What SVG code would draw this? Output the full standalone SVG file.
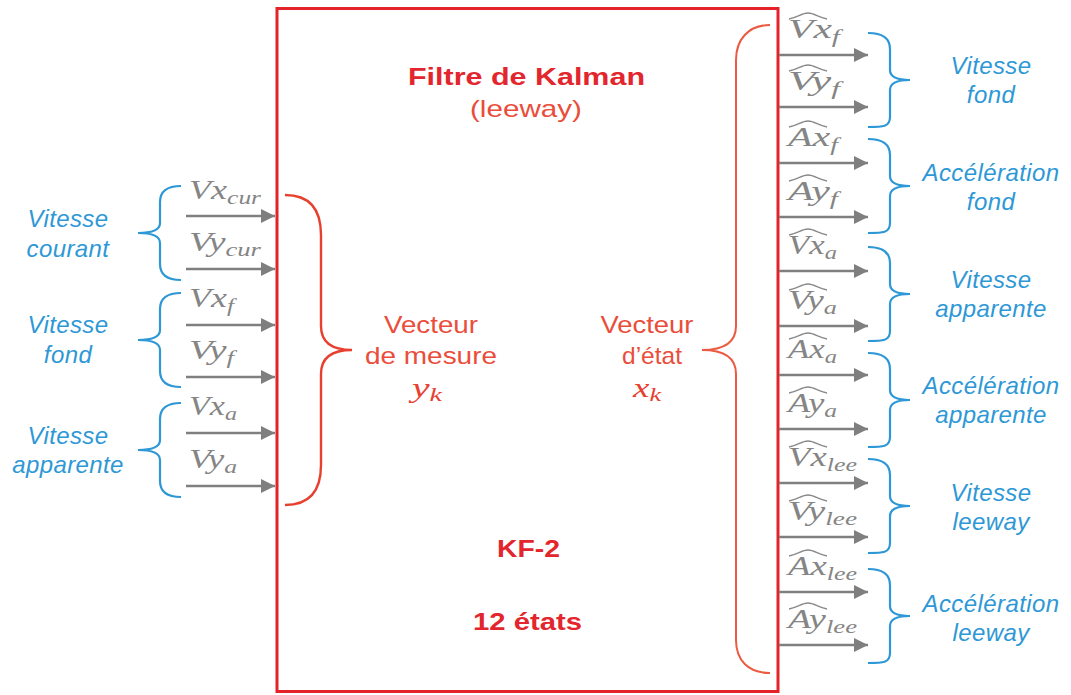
<svg xmlns="http://www.w3.org/2000/svg" width="1071" height="695" viewBox="0 0 1071 695">
<defs>
<marker id="ah" markerUnits="userSpaceOnUse" markerWidth="15" markerHeight="14" refX="14" refY="7" orient="auto"><path d="M0,0 L14,7 L0,14 z" fill="#7f7f7f"/></marker>
<style>
.box{fill:#fff;stroke:#e3222a;stroke-width:3}
.arr{stroke:#7f7f7f;stroke-width:2.5;fill:none;marker-end:url(#ah)}
.bb{stroke:#2e98d6;stroke-width:2.2;fill:none}
.rb{stroke:#e8402f;stroke-width:2.4;fill:none}
.rb2{stroke:#ec5a42;stroke-width:2;fill:none}
.hat{stroke:#8a8a8a;stroke-width:1.4;fill:none}
.t{font-family:"Liberation Sans",Arial,sans-serif;text-anchor:middle}
.tb{font-weight:bold;font-size:24px;fill:#e3262d}
.tn{font-size:24px;fill:#ea4d3a}
.blue{font-family:"Liberation Sans",Arial,sans-serif;font-style:italic;font-size:24px;fill:#2e98d6;text-anchor:middle;letter-spacing:0.4px}
.math{font-family:"Liberation Serif","DejaVu Serif",serif;font-style:italic;font-size:27px;fill:#858585}
.mred{font-family:"Liberation Serif","DejaVu Serif",serif;font-style:italic;font-size:27px;fill:#e8402f;text-anchor:middle}
.ms{font-size:19px}
</style>
</defs>
<rect width="1071" height="695" fill="#fff"/>

<g id="kalman">
<rect class="box" x="277" y="8.5" width="501" height="683"/>
<text class="t tb" x="526.5" y="85" textLength="237" lengthAdjust="spacingAndGlyphs">Filtre de Kalman</text>
<text class="t tn" x="526" y="117" textLength="112" lengthAdjust="spacingAndGlyphs">(leeway)</text>
<text class="t tb" x="528.5" y="557" font-size="25" textLength="63" lengthAdjust="spacingAndGlyphs">KF-2</text>
<text class="t tb" x="527.5" y="630" font-size="25" textLength="109" lengthAdjust="spacingAndGlyphs">12 états</text>
</g>

<g id="mesure">
<path class="rb" d="M285,195 C310,195 321,210 321,235 L321,326 C321,342 332,350 352,350 C332,350 321,358 321,374 L321,465 C321,490 310,505 285,505"/>
<text class="t tn" x="431" y="333" textLength="94" lengthAdjust="spacingAndGlyphs">Vecteur</text>
<text class="t tn" x="431" y="364" textLength="132" lengthAdjust="spacingAndGlyphs">de mesure</text>
<text class="mred" x="427" y="397" textLength="30" lengthAdjust="spacingAndGlyphs">y<tspan class="ms" dy="4">k</tspan></text>
</g>

<g id="etat">
<path class="rb2" d="M770,25 C748,25 736,40 736,60 L736,326 C736,342 725,350 702,350 C725,350 736,358 736,374 L736,640 C736,660 748,673 770,673"/>
<text class="t tn" x="647" y="333" textLength="93" lengthAdjust="spacingAndGlyphs">Vecteur</text>
<text class="t tn" x="652" y="364" textLength="60" lengthAdjust="spacingAndGlyphs">d’état</text>
<text class="mred" x="647" y="397" textLength="28" lengthAdjust="spacingAndGlyphs">x<tspan class="ms" dy="4">k</tspan></text>
</g>

<g id="inputs">
<g id="in-courant">
<path class="bb" d="M181,186 C166,186 160,192 160,202 L160,223 C160,230 152,233 138,233 C152,233 160,236 160,243 L160,264 C160,274 166,280 181,280"/>
<text class="blue" x="68" y="227">Vitesse</text>
<text class="blue" x="68" y="257">courant</text>
</g>
<g id="in-fond">
<path class="bb" d="M181,293 C166,293 160,299 160,309 L160,330 C160,337 152,340 138,340 C152,340 160,343 160,350 L160,371 C160,381 166,387 181,387"/>
<text class="blue" x="68" y="333">Vitesse</text>
<text class="blue" x="68" y="363">fond</text>
</g>
<g id="in-apparente">
<path class="bb" d="M181,403 C166,403 160,409 160,419 L160,440 C160,447 152,450 138,450 C152,450 160,453 160,460 L160,481 C160,491 166,497 181,497"/>
<text class="blue" x="68" y="444">Vitesse</text>
<text class="blue" x="68" y="473">apparente</text>
</g>
<text class="math" x="189" y="199" textLength="72" lengthAdjust="spacingAndGlyphs">Vx<tspan class="ms" dy="5">cur</tspan></text>
<text class="math" x="189" y="251" textLength="72" lengthAdjust="spacingAndGlyphs">Vy<tspan class="ms" dy="5">cur</tspan></text>
<text class="math" x="189" y="307" textLength="45" lengthAdjust="spacingAndGlyphs">Vx<tspan class="ms" dy="5">f</tspan></text>
<text class="math" x="189" y="359" textLength="45" lengthAdjust="spacingAndGlyphs">Vy<tspan class="ms" dy="5">f</tspan></text>
<text class="math" x="189" y="415" textLength="48" lengthAdjust="spacingAndGlyphs">Vx<tspan class="ms" dy="5">a</tspan></text>
<text class="math" x="189" y="468" textLength="48" lengthAdjust="spacingAndGlyphs">Vy<tspan class="ms" dy="5">a</tspan></text>
</g>

<g id="outputs">
<g id="out-vf">
<path class="bb" d="M868,33 C883,33 890,39 890,49 L890,70 C890,77 897,80 910,80 C897,80 890,83 890,90 L890,117 C890,127 883,127 868,127"/>
<text class="blue" x="991" y="74">Vitesse</text>
<text class="blue" x="991" y="103">fond</text>
</g>
<g id="out-af">
<path class="bb" d="M868,139 C883,139 890,145 890,155 L890,176 C890,183 897,186 910,186 C897,186 890,189 890,196 L890,223 C890,233 883,233 868,233"/>
<text class="blue" x="991" y="181">Accélération</text>
<text class="blue" x="991" y="210">fond</text>
</g>
<g id="out-va">
<path class="bb" d="M868,247 C883,247 890,253 890,263 L890,284 C890,291 897,294 910,294 C897,294 890,297 890,304 L890,331 C890,341 883,341 868,341"/>
<text class="blue" x="991" y="288">Vitesse</text>
<text class="blue" x="991" y="317">apparente</text>
</g>
<g id="out-aa">
<path class="bb" d="M868,353 C883,353 890,359 890,369 L890,390 C890,397 897,400 910,400 C897,400 890,403 890,410 L890,437 C890,447 883,447 868,447"/>
<text class="blue" x="991" y="394">Accélération</text>
<text class="blue" x="991" y="423">apparente</text>
</g>
<g id="out-vl">
<path class="bb" d="M868,459 C883,459 890,465 890,475 L890,496 C890,503 897,506 910,506 C897,506 890,509 890,516 L890,543 C890,553 883,553 868,553"/>
<text class="blue" x="991" y="501">Vitesse</text>
<text class="blue" x="991" y="530">leeway</text>
</g>
<g id="out-al">
<path class="bb" d="M868,569 C883,569 890,575 890,585 L890,606 C890,613 897,616 910,616 C897,616 890,619 890,626 L890,653 C890,663 883,663 868,663"/>
<text class="blue" x="991" y="612">Accélération</text>
<text class="blue" x="991" y="641">leeway</text>
</g>
<text class="math" x="788" y="38" textLength="52" lengthAdjust="spacingAndGlyphs">Vx<tspan class="ms" dy="5">f</tspan></text>
<text class="math" x="788" y="90" textLength="52" lengthAdjust="spacingAndGlyphs">Vy<tspan class="ms" dy="5">f</tspan></text>
<text class="math" x="788" y="146" textLength="50" lengthAdjust="spacingAndGlyphs">Ax<tspan class="ms" dy="5">f</tspan></text>
<text class="math" x="788" y="200" textLength="50" lengthAdjust="spacingAndGlyphs">Ay<tspan class="ms" dy="5">f</tspan></text>
<text class="math" x="788" y="254" textLength="49" lengthAdjust="spacingAndGlyphs">Vx<tspan class="ms" dy="5">a</tspan></text>
<text class="math" x="788" y="309" textLength="49" lengthAdjust="spacingAndGlyphs">Vy<tspan class="ms" dy="5">a</tspan></text>
<text class="math" x="788" y="358" textLength="49" lengthAdjust="spacingAndGlyphs">Ax<tspan class="ms" dy="5">a</tspan></text>
<text class="math" x="788" y="412" textLength="49" lengthAdjust="spacingAndGlyphs">Ay<tspan class="ms" dy="5">a</tspan></text>
<text class="math" x="788" y="466" textLength="69" lengthAdjust="spacingAndGlyphs">Vx<tspan class="ms" dy="5">lee</tspan></text>
<text class="math" x="788" y="520" textLength="69" lengthAdjust="spacingAndGlyphs">Vy<tspan class="ms" dy="5">lee</tspan></text>
<text class="math" x="788" y="575" textLength="69" lengthAdjust="spacingAndGlyphs">Ax<tspan class="ms" dy="5">lee</tspan></text>
<text class="math" x="788" y="628" textLength="69" lengthAdjust="spacingAndGlyphs">Ay<tspan class="ms" dy="5">lee</tspan></text>
<g id="hats">
<path class="hat" d="M789,19 C798,17 802,13 808,13 C814,13 818,17 827,19"/>
<path class="hat" d="M789,71 C798,69 802,65 808,65 C814,65 818,69 827,71"/>
<path class="hat" d="M789,127 C798,125 802,121 808,121 C814,121 818,125 827,127"/>
<path class="hat" d="M789,181 C798,179 802,175 808,175 C814,175 818,179 827,181"/>
<path class="hat" d="M789,235 C798,233 802,229 808,229 C814,229 818,233 827,235"/>
<path class="hat" d="M789,290 C798,288 802,284 808,284 C814,284 818,288 827,290"/>
<path class="hat" d="M789,339 C798,337 802,333 808,333 C814,333 818,337 827,339"/>
<path class="hat" d="M789,393 C798,391 802,387 808,387 C814,387 818,391 827,393"/>
<path class="hat" d="M789,447 C798,445 802,441 808,441 C814,441 818,445 827,447"/>
<path class="hat" d="M789,501 C798,499 802,495 808,495 C814,495 818,499 827,501"/>
<path class="hat" d="M789,556 C798,554 802,550 808,550 C814,550 818,554 827,556"/>
<path class="hat" d="M789,609 C798,607 802,603 808,603 C814,603 818,607 827,609"/>
</g>
</g>

<g id="connectors">
<line class="arr" x1="186" y1="216" x2="275" y2="216"/>
<line class="arr" x1="186" y1="269" x2="275" y2="269"/>
<line class="arr" x1="186" y1="325" x2="275" y2="325"/>
<line class="arr" x1="186" y1="377" x2="275" y2="377"/>
<line class="arr" x1="186" y1="433" x2="275" y2="433"/>
<line class="arr" x1="186" y1="486" x2="275" y2="486"/>
<line class="arr" x1="779" y1="55" x2="868" y2="55"/>
<line class="arr" x1="779" y1="107" x2="868" y2="107"/>
<line class="arr" x1="779" y1="163" x2="868" y2="163"/>
<line class="arr" x1="779" y1="217" x2="868" y2="217"/>
<line class="arr" x1="779" y1="271" x2="868" y2="271"/>
<line class="arr" x1="779" y1="326" x2="868" y2="326"/>
<line class="arr" x1="779" y1="375" x2="868" y2="375"/>
<line class="arr" x1="779" y1="429" x2="868" y2="429"/>
<line class="arr" x1="779" y1="483" x2="868" y2="483"/>
<line class="arr" x1="779" y1="537" x2="868" y2="537"/>
<line class="arr" x1="779" y1="592" x2="868" y2="592"/>
<line class="arr" x1="779" y1="645" x2="868" y2="645"/>
</g>
</svg>
